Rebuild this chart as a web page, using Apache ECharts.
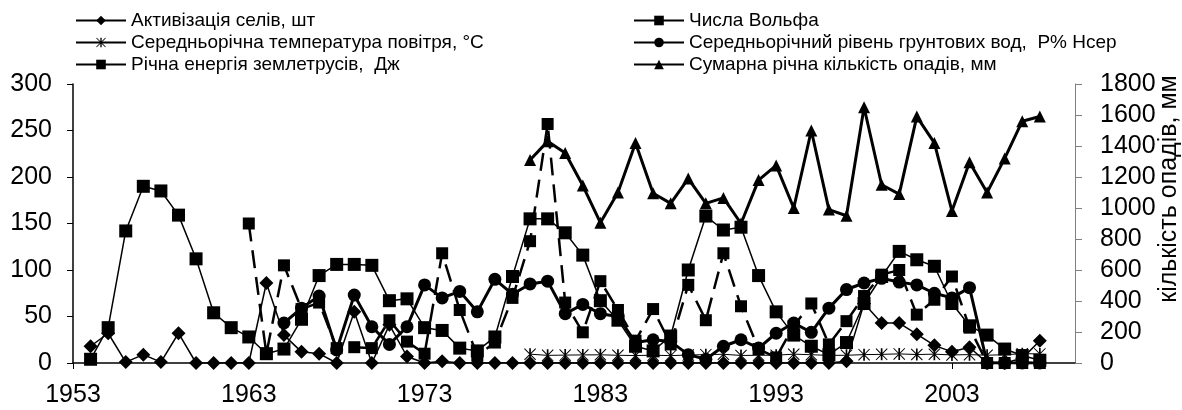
<!DOCTYPE html>
<html><head><meta charset="utf-8">
<script src="https://cdn.jsdelivr.net/npm/echarts@6/dist/echarts.min.js"></script>
<style>html,body{margin:0;padding:0;background:#fff}#c{width:1182px;height:410px}</style>
</head><body><div id="c"></div>
<script>
var years = ['1953','1954','1955','1956','1957','1958','1959','1960','1961','1962',
 '1963','1964','1965','1966','1967','1968','1969','1970','1971','1972',
 '1973','1974','1975','1976','1977','1978','1979','1980','1981','1982',
 '1983','1984','1985','1986','1987','1988','1989','1990','1991','1992',
 '1993','1994','1995','1996','1997','1998','1999','2000','2001','2002',
 '2003','2004','2005','2006','2007','2008','2009','2010'];

var nameSel = 'Активізація селів, шт';
var nameTemp = 'Середньорічна температура повітря, °C';
var nameQuake = 'Річна енергія землетрусів,  Дж';
var nameWolf = 'Числа Вольфа';
var nameWater = 'Середньорічний рівень грунтових вод,  P% Нсер';
var nameRain = 'Сумарна річна кількість опадів, мм';
var rightAxisTitle = 'кількість опадів, мм';

// 1953..2010
var sel = [null,18,32,1,9,1,32,0,0,0,
 0,86,30,12,10,0,55,0,41,7,
 0,2,0,0,0,0,0,0,0,0,
 0,0,0,0,0,0,0,0,0,0,
 0,0,0,0,2,64,43,43,31,19,
 12,17,0,0,5,24,null,null];

var wolf = [null,4,38,142,190,185,159,112,54,38,
 28,10,15,47,94,106,106,105,67,69,
 38,35,16,13,28,93,155,155,140,116,
 67,46,18,13,29,100,158,143,146,94,
 55,30,18,9,22,64,93,120,111,104,
 64,40,30,15,8,3,null,null];

var temp = [null,null,null,null,null,null,null,null,null,null,
 null,null,null,null,null,null,null,null,null,null,
 null,null,null,null,null,null,9.5,8.2,8.5,8.7,
 8.8,8.3,8.0,8.4,7.9,8.6,9.0,9.4,8.1,8.3,
 8.4,9.5,8.9,8.2,8.3,9.0,9.3,9.8,9.1,9.5,
 8.7,9.0,8.4,8.9,10.0,9.8,null,null];

var water = [null,null,null,null,null,null,null,null,null,null,
 null,null,43,59,72,14,73,39,20,39,
 84,70,77,55,90,74,85,88,53,63,
 53,50,22,25,23,9,4,18,25,16,
 32,43,33,59,79,86,91,87,84,75,
 70,81,0,0,0,0,null,null];

var quake = [null,null,null,null,null,null,null,null,null,null,
 150,10,105,58,65,16,17,16,46,23,
 10,118,57,8,22,70,131,257,65,33,
 88,57,24,58,20,84,46,118,61,15,
 6,40,64,20,45,72,95,100,52,68,
 93,38,0,0,0,0,null,null];

var rain = [null,null,null,null,null,null,null,null,null,null,
 null,null,null,null,null,null,null,null,null,null,
 null,null,null,null,null,null,1310,1430,1355,1145,
 905,1100,1420,1095,1030,1190,1030,1065,900,1180,
 1275,1000,1500,990,950,1650,1150,1090,1590,1420,
 980,1295,1100,1320,1560,1590,null,null];

var leftTicks = [0, 300, 50];
var rightTicks = [0, 1800, 200];

var FONT = 'Liberation Sans, Arial, sans-serif';
var asterisk = 'path://M-0.7,-5 L0.7,-5 L0.7,5 L-0.7,5 Z M-4.4,-5 L5,4.4 L4.4,5 L-5,-4.4 Z M4.4,-5 L5,-4.4 L-4.4,5 L-5,4.4 Z';

var chart = echarts.init(document.getElementById('c'), null, {renderer:'canvas'});
function ser(name, data, symbol, size, width, type, yIdx) {
  return {
    name: name, type: 'line', data: data, yAxisIndex: yIdx || 0,
    symbol: symbol, symbolSize: size, showSymbol: true, showAllSymbol: true, connectNulls: false,
    animation: false,
    lineStyle: {color: '#000', width: width, type: type},
    itemStyle: {color: '#000', borderWidth: 0}
  };
}
var legendText = {fontSize: 19, color: '#000', fontFamily: FONT};
chart.setOption({
  animation: false,
  backgroundColor: '#fff',
  grid: {left: 73, right: 107, top: 84, bottom: 47},
  legend: [
    {left: 75, top: 11, padding: 0, orient: 'vertical', itemWidth: 50, itemHeight: 12, itemGap: 3,
     textStyle: legendText,
     data: [{name: nameSel}, {name: nameTemp}, {name: nameQuake, lineStyle: {type: 'solid'}}]},
    {left: 633, top: 11, padding: 0, orient: 'vertical', itemWidth: 50, itemHeight: 12, itemGap: 3,
     textStyle: legendText,
     data: [{name: nameWolf}, {name: nameWater}, {name: nameRain}]}
  ],
  xAxis: {
    type: 'category', data: years, boundaryGap: false,
    axisLine: {lineStyle: {color: '#000', width: 1.5}},
    axisTick: {show: true, interval: 9, length: 6, lineStyle: {color: '#000'}},
    axisLabel: {interval: 9, fontSize: 25, color: '#000', fontFamily: FONT, margin: 20},
    splitLine: {show: false}
  },
  yAxis: [
    {type: 'value', min: leftTicks[0], max: leftTicks[1], interval: leftTicks[2],
     axisLine: {show: true, lineStyle: {color: '#000', width: 1.5}},
     axisTick: {show: true, length: 6, lineStyle: {color: '#000'}},
     axisLabel: {fontSize: 25, color: '#000', fontFamily: FONT, margin: 21},
     splitLine: {show: false}},
    {type: 'value', position: 'right', min: rightTicks[0], max: rightTicks[1], interval: rightTicks[2],
     axisLine: {show: true, lineStyle: {color: '#808080', width: 1}},
     axisTick: {show: true, length: 7, lineStyle: {color: '#808080'}},
     axisLabel: {fontSize: 25, color: '#000', fontFamily: FONT, margin: 25,
                 formatter: function (v) { return String(v); }},
     splitLine: {show: false}}
  ],
  graphic: [{
    type: 'text', x: 1169, y: 189, rotation: Math.PI / 2,
    style: {text: rightAxisTitle, fontSize: 25, fontFamily: FONT, fill: '#000', textAlign: 'center', textVerticalAlign: 'middle'}
  }],
  series: [
    ser(nameSel, sel, 'diamond', 14, 1.5, 'solid'),
    ser(nameWolf, wolf, 'rect', 13, 1.5, 'solid'),
    ser(nameTemp, temp, asterisk, 12, 1, 'solid'),
    ser(nameWater, water, 'circle', 13, 3, 'solid'),
    ser(nameQuake, quake, 'rect', 12, 2.5, [18, 9]),
    ser(nameRain, rain, 'triangle', 12, 3, 'solid', 1)
  ]
});
</script></body></html>
